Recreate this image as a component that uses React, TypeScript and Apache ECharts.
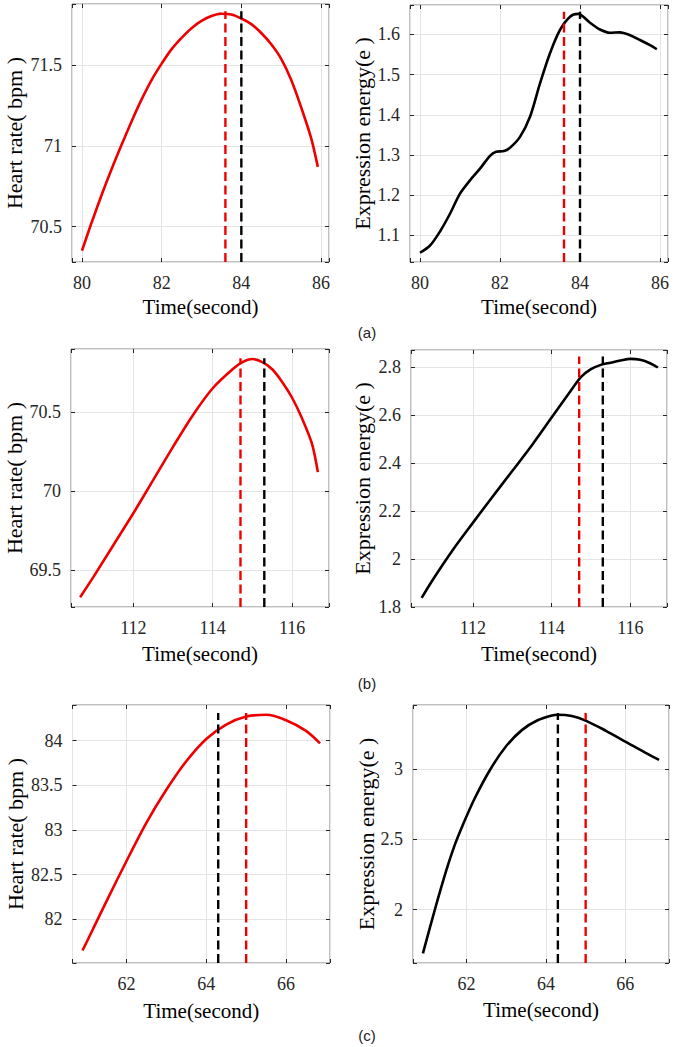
import { useEffect, useRef } from 'react';
import * as echarts from 'echarts';

// heart rate (bpm) and expression energy traces, one pair per case (a), (b), (c)
const hrTimeA = [80, 80.25, 80.5, 80.75, 81, 81.25, 81.5, 81.75, 82, 82.25, 82.5, 82.75, 83, 83.25, 83.5, 83.75, 84, 84.25, 84.5, 84.75, 85, 85.25, 85.5, 85.75, 85.92];
const hrA = [70.35, 70.53, 70.7, 70.86, 71.01, 71.155, 71.29, 71.41, 71.51, 71.6, 71.67, 71.73, 71.775, 71.805, 71.82, 71.815, 71.79, 71.755, 71.7, 71.63, 71.54, 71.41, 71.24, 71.05, 70.87];

const eeTimeA = [80, 80.25, 80.5, 80.75, 81, 81.25, 81.5, 81.75, 81.9, 82.1, 82.25, 82.5, 82.75, 83, 83.25, 83.5, 83.75, 83.95, 84.25, 84.5, 84.75, 85, 85.25, 85.5, 85.75, 85.92];
const eeA = [1.057, 1.075, 1.11, 1.154, 1.204, 1.237, 1.266, 1.298, 1.308, 1.31, 1.318, 1.345, 1.395, 1.478, 1.553, 1.611, 1.644, 1.651, 1.629, 1.612, 1.604, 1.605, 1.598, 1.586, 1.573, 1.563];

const hrTimeB = [110.66, 111, 111.5, 112, 112.5, 113, 113.5, 114, 114.5, 114.75, 115, 115.25, 115.5, 115.75, 116, 116.25, 116.5, 116.65];
const hrB = [69.33, 69.46, 69.66, 69.86, 70.07, 70.28, 70.48, 70.65, 70.77, 70.815, 70.835, 70.815, 70.77, 70.69, 70.59, 70.46, 70.3, 70.12];

const eeTimeB = [110.7, 111, 111.5, 112, 112.5, 113, 113.5, 114, 114.5, 114.75, 115, 115.25, 115.5, 115.75, 116, 116.25, 116.5, 116.7];
const eeB = [1.838, 1.918, 2.04, 2.151, 2.26, 2.367, 2.475, 2.59, 2.705, 2.76, 2.792, 2.81, 2.819, 2.828, 2.835, 2.831, 2.817, 2.799];

const hrTimeC = [60.9, 61, 61.5, 62, 62.5, 63, 63.5, 64, 64.5, 65, 65.5, 66, 66.5, 66.85];
const hrC = [81.65, 81.74, 82.2, 82.65, 83.08, 83.45, 83.77, 84.02, 84.18, 84.27, 84.29, 84.23, 84.11, 83.97];

const eeTimeC = [60.9, 61.2, 61.5, 61.7, 61.9, 62.2, 62.6, 63, 63.4, 63.8, 64.15, 64.3, 64.65, 65, 65.5, 66, 66.5, 66.85];
const eeC = [1.69, 2.0, 2.29, 2.46, 2.6, 2.79, 3.0, 3.165, 3.28, 3.35, 3.383, 3.388, 3.379, 3.346, 3.275, 3.197, 3.118, 3.066];

// dashed markers: red / black time per case, and how high they reach
const redMarks = [83.6, 114.7, 65.0];
const blackMarks = [84.0, 115.3, 64.3];
const hrMarkTops = [71.835, 70.84, 84.31];
const eeMarkTops = [1.656, 2.845, 3.4];

const captions = ['(a)', '(b)', '(c)'];

const RED = '#ee0000';
const BLACK = '#000000';
const SERIF = 'Liberation Serif';

type Panel = {
  rect: { left: number; top: number; width: number; height: number };
  x: [number, number];
  y: [number, number];
  yStep: number;
  name: string;
  t: number[];
  v: number[];
  color: string;
  row: number;
  markTop: number;
  nameX: number;
  xGap: number;
};

const panels: Panel[] = [
  { rect: { left: 72, top: 4, width: 257, height: 258 }, x: [79.75, 86.2], y: [70.28, 71.88], yStep: 0.5, name: 'Heart rate( bpm )', t: hrTimeA, v: hrA, color: RED, row: 0, markTop: hrMarkTops[0], nameX: 14, xGap: 34 },
  { rect: { left: 410, top: 5, width: 258, height: 257 }, x: [79.75, 86.2], y: [1.034, 1.673], yStep: 0.1, name: 'Expression energy(e )', t: eeTimeA, v: eeA, color: BLACK, row: 0, markTop: eeMarkTops[0], nameX: 362, xGap: 34 },
  { rect: { left: 71, top: 349, width: 258, height: 258 }, x: [110.43, 116.93], y: [69.268, 70.898], yStep: 0.5, name: 'Heart rate( bpm )', t: hrTimeB, v: hrB, color: RED, row: 1, markTop: hrMarkTops[1], nameX: 14, xGap: 36 },
  { rect: { left: 411, top: 350, width: 256, height: 257 }, x: [110.43, 116.93], y: [1.8, 2.872], yStep: 0.2, name: 'Expression energy(e )', t: eeTimeB, v: eeB, color: BLACK, row: 1, markTop: eeMarkTops[1], nameX: 362, xGap: 36 },
  { rect: { left: 72.5, top: 705, width: 257.5, height: 258 }, x: [60.65, 67.1], y: [81.51, 84.4], yStep: 0.5, name: 'Heart rate( bpm )', t: hrTimeC, v: hrC, color: RED, row: 2, markTop: hrMarkTops[2], nameX: 15.5, xGap: 37 },
  { rect: { left: 413, top: 705, width: 256, height: 258 }, x: [60.65, 67.1], y: [1.621, 3.457], yStep: 0.5, name: 'Expression energy(e )', t: eeTimeC, v: eeC, color: BLACK, row: 2, markTop: eeMarkTops[2], nameX: 366, xGap: 36 },
];

const captionPos = [
  { x: 367, y: 332 },
  { x: 367, y: 683 },
  { x: 367, y: 1035 },
];

const onStep = (step: number) => (v: number) => {
  const k = v / step;
  return Math.abs(k - Math.round(k)) < 1e-6 ? String(parseFloat(v.toFixed(3))) : '';
};

function buildOption(): echarts.EChartsOption {
  const grid: any[] = [];
  const xAxis: any[] = [];
  const yAxis: any[] = [];
  const series: any[] = [];
  const graphic: any[] = [];

  const tick = () => ({ show: true, inside: true, length: 4, lineStyle: { color: '#262626', width: 1 } });
  const labelStyle = () => ({ fontFamily: SERIF, fontSize: 18, color: '#262626' });

  panels.forEach((p, i) => {
    grid.push({ ...p.rect, show: true, borderColor: '#808080', borderWidth: 1, backgroundColor: 'transparent' });

    const xBase = { type: 'value', gridIndex: i, min: p.x[0], max: p.x[1], minInterval: 2, maxInterval: 2, splitNumber: 3 };
    xAxis.push({
      ...xBase,
      position: 'bottom',
      name: 'Time(second)',
      nameLocation: 'middle',
      nameGap: p.xGap,
      nameTextStyle: { fontFamily: SERIF, fontSize: 21, color: '#000' },
      axisLine: { show: false },
      axisTick: tick(),
      axisLabel: { ...labelStyle(), margin: 12, formatter: onStep(2) },
      splitLine: { show: true, lineStyle: { color: '#e4e4e4', width: 1 } },
    });
    xAxis.push({
      ...xBase,
      position: 'top',
      axisLine: { show: false },
      axisTick: tick(),
      axisLabel: { show: false },
      splitLine: { show: false },
    });

    const yBase = { type: 'value', gridIndex: i, min: p.y[0], max: p.y[1], minInterval: p.yStep, maxInterval: p.yStep, splitNumber: 4 };
    yAxis.push({
      ...yBase,
      position: 'left',
      axisLine: { show: false },
      axisTick: tick(),
      axisLabel: { ...labelStyle(), margin: 10, formatter: onStep(p.yStep) },
      splitLine: { show: true, lineStyle: { color: '#e4e4e4', width: 1 } },
    });
    yAxis.push({
      ...yBase,
      position: 'right',
      axisLine: { show: false },
      axisTick: tick(),
      axisLabel: { show: false },
      splitLine: { show: false },
    });

    // y-axis title, rotated to read bottom-to-top
    graphic.push({
      type: 'text',
      x: p.nameX,
      y: p.rect.top + p.rect.height / 2,
      rotation: Math.PI / 2,
      style: {
        text: p.name,
        fontFamily: SERIF,
        fontSize: 22,
        fill: '#000',
        align: 'center',
        verticalAlign: 'middle',
      },
    });

    series.push({
      type: 'line',
      xAxisIndex: 2 * i,
      yAxisIndex: 2 * i,
      data: p.t.map((t, j) => [t, p.v[j]]),
      smooth: 0.3,
      showSymbol: false,
      lineStyle: { color: p.color, width: 2.6 },
      z: 3,
    });

    const marks = [
      { at: redMarks[p.row], color: RED },
      { at: blackMarks[p.row], color: BLACK },
    ];
    marks.forEach((m) => {
      series.push({
        type: 'line',
        xAxisIndex: 2 * i,
        yAxisIndex: 2 * i,
        data: [
          [m.at, p.y[0]],
          [m.at, p.markTop],
        ],
        showSymbol: false,
        lineStyle: { color: m.color, width: 2.4, type: [9, 4.5] },
        z: 4,
      });
    });
  });

  captions.forEach((c, i) => {
    graphic.push({
      type: 'text',
      x: captionPos[i].x,
      y: captionPos[i].y,
      style: {
        text: c,
        fontFamily: 'Liberation Sans',
        fontSize: 15,
        fill: '#222',
        align: 'center',
        verticalAlign: 'middle',
      },
    });
  });

  return {
    animation: false,
    backgroundColor: '#ffffff',
    grid,
    xAxis,
    yAxis,
    series,
    graphic,
  };
}

export default function App() {
  const chartRef = useRef<HTMLDivElement>(null);

  useEffect(() => {
    if (!chartRef.current) return;
    document.body.style.margin = '0';

    const chart = echarts.init(chartRef.current, undefined, { renderer: 'svg' });
    chart.setOption(buildOption());

    const onResize = () => chart.resize();
    window.addEventListener('resize', onResize);

    return () => {
      window.removeEventListener('resize', onResize);
      chart.dispose();
    };
  }, []);

  return <div ref={chartRef} style={{ width: 675, height: 1047 }} />;
}
